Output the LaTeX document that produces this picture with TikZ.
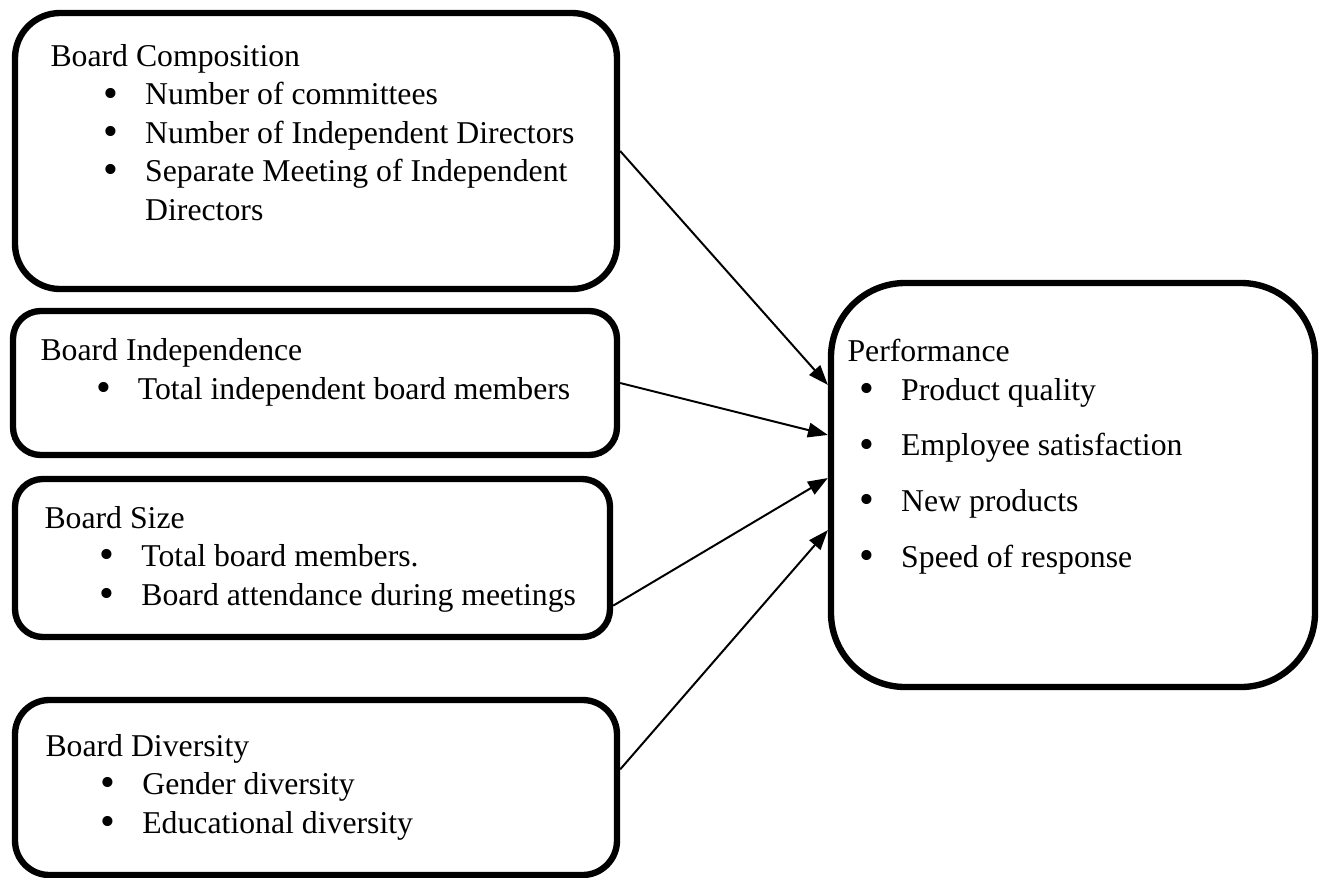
\documentclass[tikz,border=0pt]{standalone}
\usepackage{fontspec}
\setmainfont{Liberation Serif}
\usepackage{tikz}
\usetikzlibrary{arrows.meta}
\usetikzlibrary{calc}

\newcommand{\itm}[2][20pt]{\hspace*{#1}\makebox[15.8pt][l]{\raisebox{-0.8pt}{\fontsize{16}{16}\selectfont\textbullet}}#2}

\begin{document}
\begin{tikzpicture}[x=0.378pt,y=-0.378pt,
    txt/.style={anchor=base west,inner sep=0pt,align=left,
      font=\fontsize{12}{14.5}\selectfont},
    arr/.style={-{Triangle[length=7.5pt,width=5.5pt]},line width=0.75pt}]
          \useasboundingbox (0,0) rectangle (1322,878);

          \begin{scope}[every node/.style={draw,line width=2.4pt,rectangle,inner sep=0pt}]
            \node (comp) [minimum width=602*0.378pt,minimum height=276*0.378pt,rounded corners=17pt] at (316,151) {};
            \node (indep) [minimum width=604*0.378pt,minimum height=144*0.378pt,rounded corners=10.5pt] at (315,383) {};
            \node (size) [minimum width=595*0.378pt,minimum height=158*0.378pt,rounded corners=10.5pt] at (312.5,558) {};
            \node (div) [minimum width=602*0.378pt,minimum height=175*0.378pt,rounded corners=13pt] at (316,787.5) {};
            \node (perf) [minimum width=484*0.378pt,minimum height=404*0.378pt,rounded corners=28pt] at (1073,485) {};
          \end{scope}

          % text blocks sit on the baseline of their last line
          \node (compt) [txt] at (50,220) {Board Composition\\
            \itm{Number of committees}\\
            \itm{Number of Independent Directors}\\
            \itm{Separate Meeting of Independent}\\
            \hspace*{35.8pt}Directors};
          \node (indept) [txt] at (40,399) {Board Independence\\
            \itm[21pt]{Total independent board members}};
          \node (sizet) [txt] at (44,605) {Board Size\\
            \itm[20.8pt]{Total board members.}\\
            \itm[20.8pt]{Board attendance during meetings}};
          \node (divt) [txt] at (45,833) {Board Diversity\\
            \itm[20.8pt]{Gender diversity}\\
            \itm[20.8pt]{Educational diversity}};
          \node (perft) [txt] at (847,567) {Performance\\
            \itm[4.5pt]{Product quality}\\[6.5pt]
            \itm[4.5pt]{Employee satisfaction}\\[6.5pt]
            \itm[4.5pt]{New products}\\[6.5pt]
            \itm[4.5pt]{Speed of response}};

          \draw [arr] (comp.east) -- ($(perf.north west)!0.256!(perf.south west)$);
          \draw [arr] (indep.east) -- ($(perf.north west)!0.378!(perf.south west)$);
          \draw [arr] ($(size.north east)!0.79!(size.south east)$) -- ($(perf.north west)!0.483!(perf.south west)$);
          \draw [arr] ($(div.north east)!0.4!(div.south east)$) -- ($(perf.north west)!0.61!(perf.south west)$);
        \end{tikzpicture}
\end{document}
